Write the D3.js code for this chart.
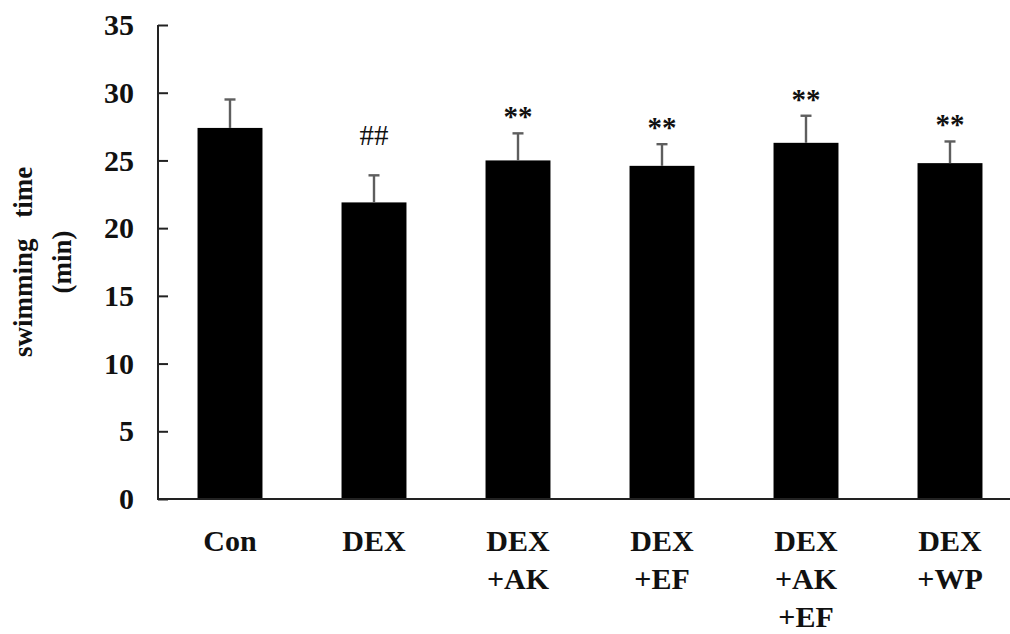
<!DOCTYPE html>
<html>
<head>
<meta charset="utf-8">
<script src="https://cdn.jsdelivr.net/npm/d3@7"></script>
<style>
  html, body { margin: 0; padding: 0; background: #fff; }
  svg { display: block; }
  text { font-family: "Liberation Serif", "Times New Roman", serif; fill: #111; }
</style>
</head>
<body>
<svg id="chart" width="1010" height="634"></svg>
<script>
// Group labels (multi-line) and measurements
const groups = [["Con"], ["DEX"], ["DEX", "+AK"], ["DEX", "+EF"], ["DEX", "+AK", "+EF"], ["DEX", "+WP"]];
const groupKeys = ["Con", "DEX", "DEX+AK", "DEX+EF", "DEX+AK+EF", "DEX+WP"];
const means = [27.4, 21.9, 25.0, 24.6, 26.3, 24.8];
const sds = [2.1, 2.0, 2.0, 1.6, 2.0, 1.6];
const marks = ["", "##", "**", "**", "**", "**"];
const yTicks = [0, 5, 10, 15, 20, 25, 30, 35];

const svg = d3.select("#chart");
const x0 = 158, x1 = 1022, yTop = 25, yBottom = 499;

const x = d3.scaleBand()
  .domain(groupKeys)
  .range([x0, x1])
  .paddingInner(0.549)
  .paddingOuter(0.2745);

const y = d3.scaleLinear().domain([0, 35]).range([yBottom, yTop]);

// Bars
svg.append("g").selectAll("rect")
  .data(groupKeys)
  .join("rect")
  .attr("x", d => x(d))
  .attr("width", x.bandwidth())
  .attr("y", (d, i) => y(means[i]))
  .attr("height", (d, i) => y(0) - y(means[i]))
  .attr("fill", "#000");

// Upper error bars
const err = svg.append("g").attr("stroke", "#5e5e5e").attr("stroke-width", 2.4);
groupKeys.forEach((k, i) => {
  const cx = x(k) + x.bandwidth() / 2;
  err.append("line")
    .attr("x1", cx).attr("x2", cx)
    .attr("y1", y(means[i])).attr("y2", y(means[i] + sds[i]));
  err.append("line")
    .attr("x1", cx - 5.5).attr("x2", cx + 5.5)
    .attr("y1", y(means[i] + sds[i])).attr("y2", y(means[i] + sds[i]));
});

// Significance marks
svg.append("g").selectAll("text")
  .data(groupKeys)
  .join("text")
  .attr("x", d => x(d) + x.bandwidth() / 2)
  .attr("y", (d, i) => y(means[i] + sds[i]) - (marks[i] === "##" ? 30 : 7))
  .attr("text-anchor", "middle")
  .attr("font-size", 29)
  .attr("font-weight", (d, i) => marks[i] === "**" ? "bold" : "normal")
  .text((d, i) => marks[i]);

// Y axis
const yAxis = d3.axisLeft(y).tickValues(yTicks).tickSize(-10).tickPadding(24);
const gy = svg.append("g").attr("transform", `translate(${x0},0)`).call(yAxis);
gy.select(".domain").remove();
gy.selectAll(".tick line").attr("stroke", "#222").attr("stroke-width", 2);
gy.selectAll(".tick text")
  .attr("font-family", "Liberation Serif, Times New Roman, serif")
  .attr("font-weight", "bold")
  .attr("font-size", 30)
  .attr("fill", "#111");
svg.append("line")
  .attr("x1", x0).attr("x2", x0)
  .attr("y1", y(35)).attr("y2", y(0))
  .attr("stroke", "#222").attr("stroke-width", 2);

// X axis baseline
svg.append("line")
  .attr("x1", x0 - 1).attr("x2", 1010)
  .attr("y1", y(0)).attr("y2", y(0))
  .attr("stroke", "#222").attr("stroke-width", 2);

// Category labels
const xl = svg.append("g");
groupKeys.forEach((k, i) => {
  const t = xl.append("text")
    .attr("x", x(k) + x.bandwidth() / 2)
    .attr("y", 551)
    .attr("text-anchor", "middle")
    .attr("font-weight", "bold")
    .attr("font-size", 30);
  groups[i].forEach((line, j) => {
    t.append("tspan")
      .attr("x", x(k) + x.bandwidth() / 2)
      .attr("dy", j === 0 ? 0 : 38)
      .text(line);
  });
});

// Y axis title
svg.append("text")
  .attr("transform", `translate(32,${(yTop + yBottom) / 2}) rotate(-90)`)
  .attr("text-anchor", "middle")
  .attr("font-weight", "bold")
  .attr("font-size", 27)
  .style("word-spacing", "14px")
  .text("swimming time");
svg.append("text")
  .attr("transform", `translate(71,${(yTop + yBottom) / 2}) rotate(-90)`)
  .attr("text-anchor", "middle")
  .attr("font-weight", "bold")
  .attr("font-size", 27)
  .text("(min)");
</script>
</body>
</html>
